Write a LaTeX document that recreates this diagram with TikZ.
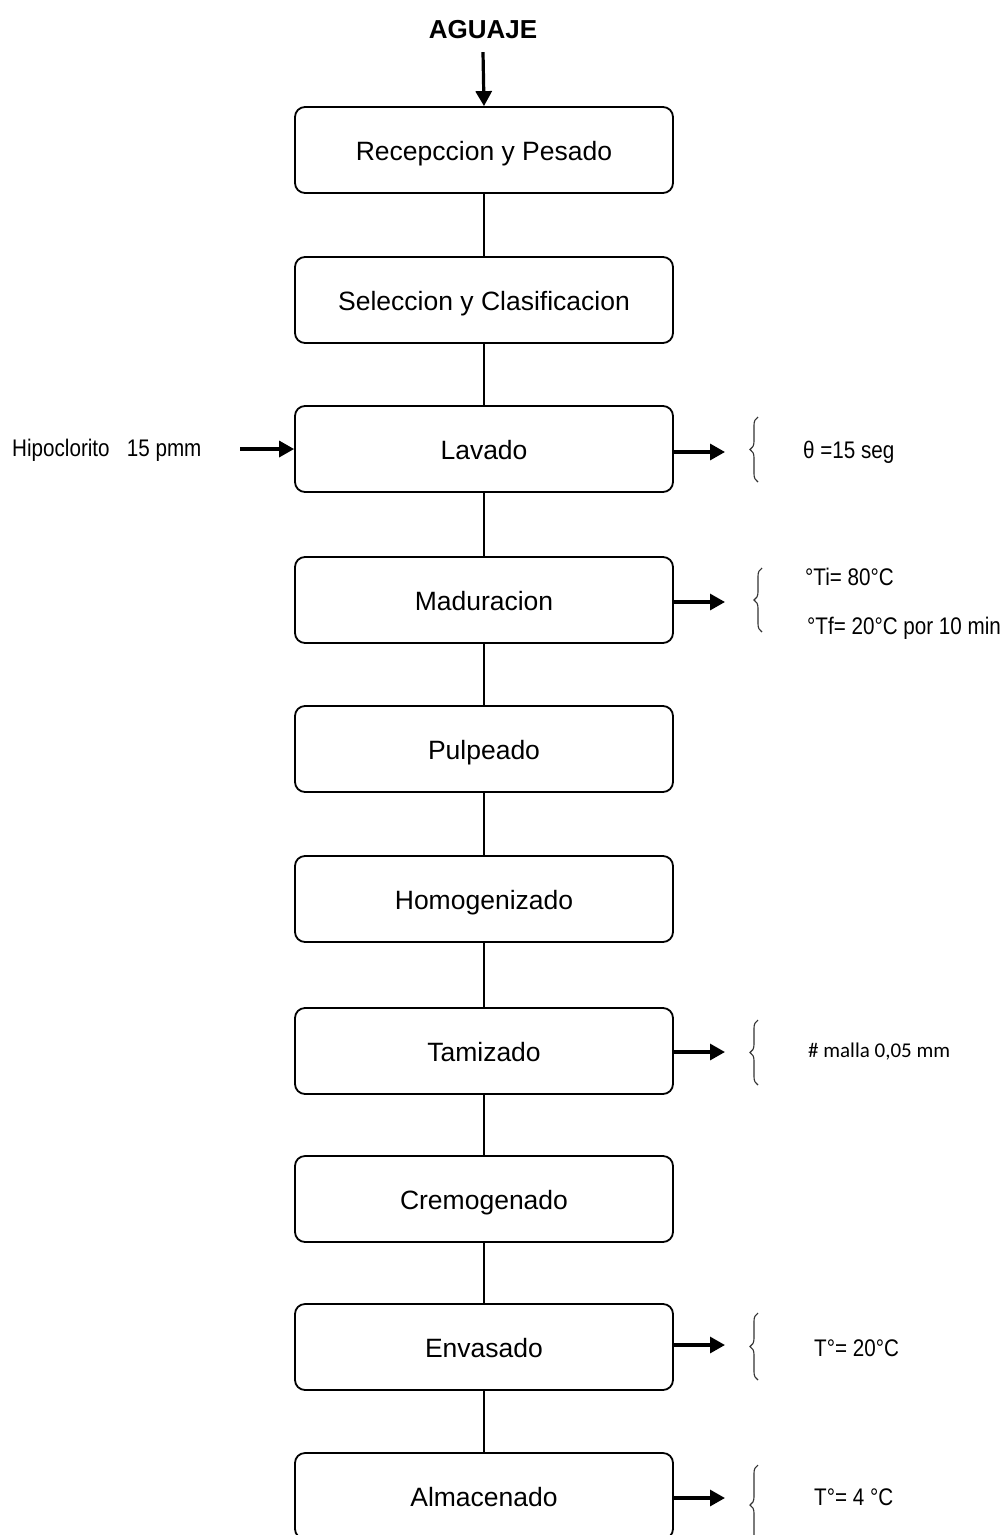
\documentclass[tikz,border=0pt]{standalone}
\usepackage{fontspec}
\setmainfont{Liberation Sans}
\newfontfamily\narrowsans[FakeStretch=0.86]{Liberation Sans}
\newfontfamily\calibrisans{Carlito}
\usetikzlibrary{arrows.meta,decorations.pathreplacing}

\begin{document}
\begin{tikzpicture}[x=1pt,y=-1pt,
  stage/.style={draw=black, line width=1.8pt, rounded corners=10pt,
    minimum width=378pt, minimum height=86pt, inner sep=0pt,
    text height=21pt, text depth=0pt,
    font=\fontsize{26.5}{30}\selectfont},
  link/.style={line width=2.2pt},
  flow/.style={line width=3.2pt, -{Triangle[length=15pt,width=16pt]}},
  curly/.style={draw=black!80, line width=1.1pt, decorate,
    decoration={brace, amplitude=8pt}},
  note/.style={anchor=west, inner sep=0pt,
    font=\narrowsans\fontsize{24}{28}\selectfont},
]
\useasboundingbox (0,0) rectangle (1007,1535);
\clip (0,0) rectangle (1007,1535);

% process stages
\node[stage] (b1)  at (484,150)  {Recepccion y Pesado};
\node[stage] (b2)  at (484,300)  {Seleccion y Clasificacion};
\node[stage] (b3)  at (484,449)  {Lavado};
\node[stage] (b4)  at (484,600)  {Maduracion};
\node[stage] (b5)  at (484,749)  {Pulpeado};
\node[stage] (b6)  at (484,899)  {Homogenizado};
\node[stage] (b7)  at (484,1051) {Tamizado};
\node[stage] (b8)  at (484,1199) {Cremogenado};
\node[stage] (b9)  at (484,1347) {Envasado};
\node[stage] (b10) at (484,1496) {Almacenado};

% raw material input
\node[inner sep=0pt, font=\bfseries\fontsize{26}{30}\selectfont] (src) at (483,30) {AGUAJE};
\draw[flow] (src.south |- b1.north) ++(0,-54) -- (b1.north);

% links between stages
\foreach \a/\b in {b1/b2,b2/b3,b3/b4,b4/b5,b5/b6,b6/b7,b7/b8,b8/b9,b9/b10}
  \draw[link] (\a.south) -- (\b.north);

% disinfectant input
\coordinate (hin) at (240,449);
\node[note] (hipo) at (12,450) {Hipoclorito\ \ \ 15 pmm};
\draw[flow] (hin) -- (b3.west);

% process conditions
\foreach \s/\y in {b3/452,b4/602,b7/1052,b9/1345,b10/1498}
  \coordinate (e\s) at (725,\y);
\draw[flow] (b3.east |- eb3) -- (eb3);
\draw[flow] (b4.east |- eb4) -- (eb4);
\draw[flow] (b7.east |- eb7) -- (eb7);
\draw[flow] (b9.east |- eb9) -- (eb9);
\draw[flow] (b10.east |- eb10) -- (eb10);

\coordinate (k3a) at (758,482);  \coordinate (k3b) at (758,417);
\coordinate (k4a) at (762,632);  \coordinate (k4b) at (762,568);
\coordinate (k7a) at (758,1085); \coordinate (k7b) at (758,1020);
\coordinate (k9a) at (758,1380); \coordinate (k9b) at (758,1313);
\coordinate (k10a) at (758,1545); \coordinate (k10b) at (758,1465);
\draw[curly] (k3a) -- (k3b);
\draw[curly] (k4a) -- (k4b);
\draw[curly] (k7a) -- (k7b);
\draw[curly] (k9a) -- (k9b);
\draw[curly] (k10a) -- (k10b);

\node[note] (c3)  at (803,452)  {θ =15 seg};
\node[note] (c4a) at (805,577)  {°Ti= 80°C};
\node[note] (c4b) at (807,628)  {°Tf= 20°C por 10 min};
\node[note, font=\calibrisans\fontsize{21}{25}\selectfont] (c7) at (808,1052) {\# malla 0,05 mm};
\node[note] (c9)  at (814,1348) {T°= 20°C};
\node[note] (c10) at (814,1497) {T°= 4 °C};
\end{tikzpicture}
\end{document}
